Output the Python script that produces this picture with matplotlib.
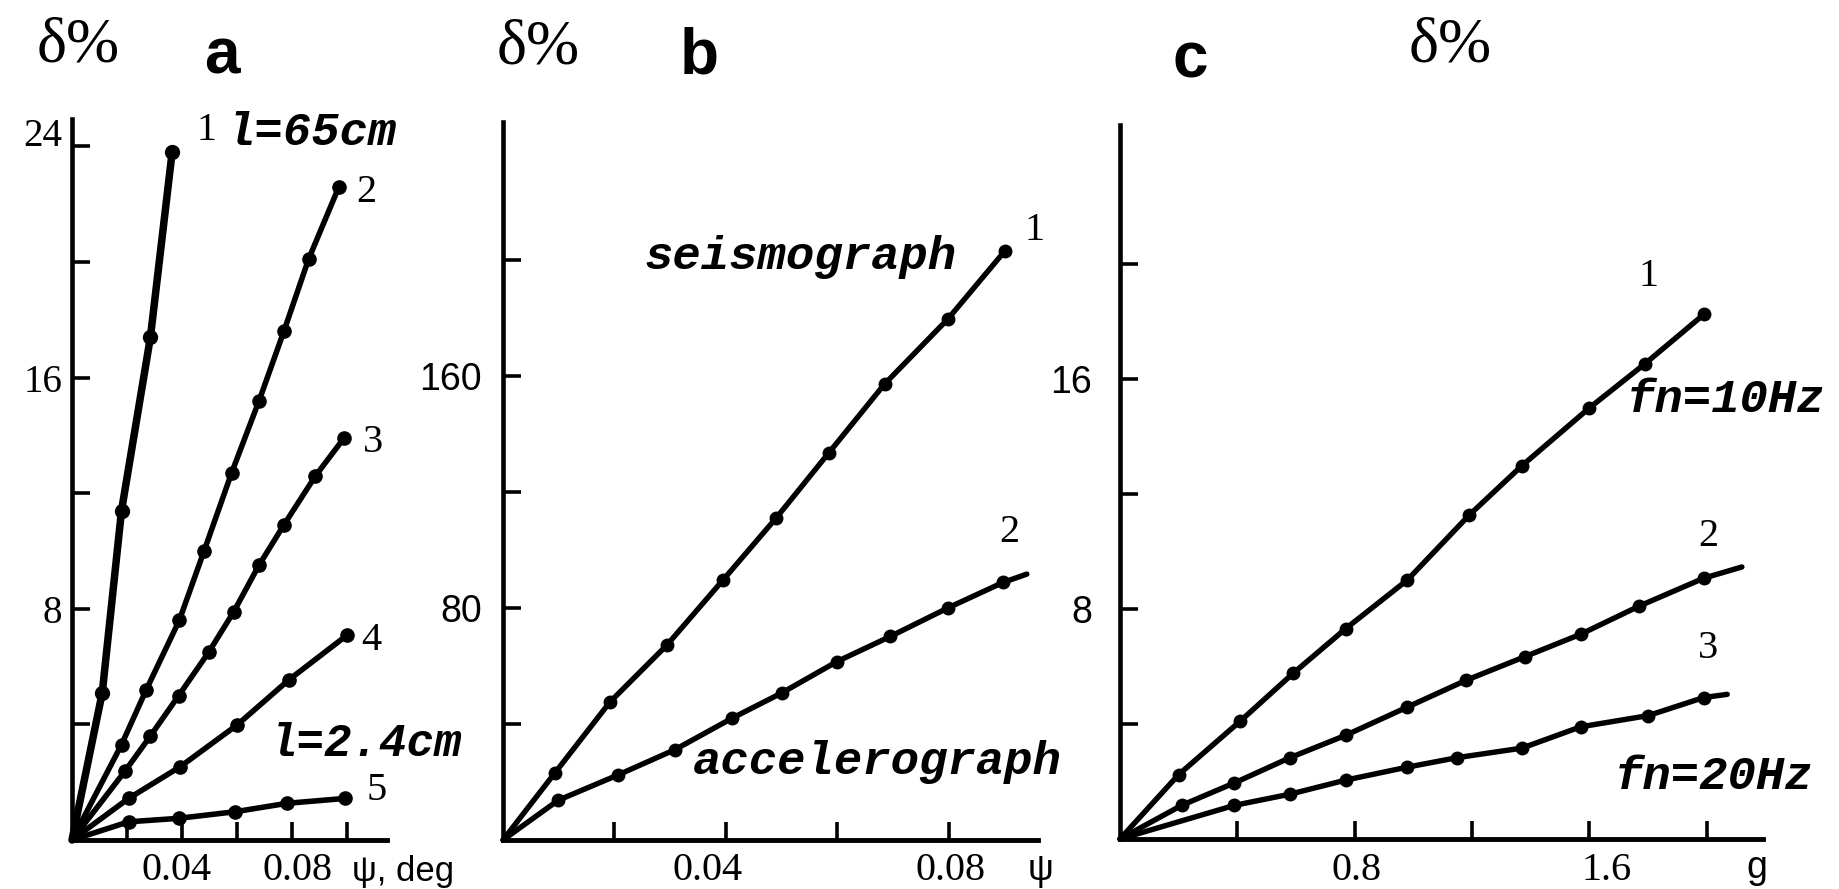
import numpy as np
import matplotlib
matplotlib.use("Agg")
import matplotlib.pyplot as plt
from matplotlib.transforms import ScaledTranslation

W, H = 1839, 889

SERIF = "Liberation Serif"
SANS = "Liberation Sans"
MONO = "Liberation Mono"

# ---------------- data ----------------
# (a) delta % vs psi (deg) for pendulum lengths
a1_x = [0.011, 0.018, 0.0285, 0.0364]
a1_y = [5.1, 11.4, 17.4, 23.8]
a2_x = [0.018, 0.027, 0.039, 0.048, 0.058, 0.068, 0.077, 0.086, 0.097]
a2_y = [3.3, 5.2, 7.6, 10.0, 12.7, 15.2, 17.6, 20.1, 22.6]
a3_x = [0.0194, 0.0285, 0.0388, 0.0497, 0.0588, 0.0679, 0.077, 0.0885, 0.0988]
a3_y = [2.4, 3.6, 5.0, 6.5, 7.9, 9.5, 10.9, 12.6, 13.9]
a4_x = [0.0206, 0.0394, 0.060, 0.0788, 0.100]
a4_y = [1.44, 2.54, 3.98, 5.54, 7.09]
a5_x = [0.0206, 0.0388, 0.0594, 0.0782, 0.0994]
a5_y = [0.63, 0.75, 0.98, 1.27, 1.44]

# (b) delta % vs psi for seismograph / accelerograph
b1_x = [0.0093, 0.0192, 0.0294, 0.0395, 0.049, 0.0585, 0.0685, 0.0798, 0.090]
b1_y = [23.1, 47.6, 67.2, 89.7, 111.0, 133.6, 157.3, 179.6, 203.0]
b2_x = [0.0099, 0.0206, 0.0309, 0.0411, 0.050, 0.0599, 0.0695, 0.0798, 0.0897]
b2_y = [13.7, 22.4, 31.2, 42.0, 50.7, 61.5, 70.2, 80.0, 88.8]
b2_end = (0.094, 91.7)

# (c) delta % vs g for natural frequencies
c1_x = [0.20, 0.41, 0.59, 0.77, 0.98, 1.19, 1.37, 1.60, 1.79, 1.99]
c1_y = [2.24, 4.10, 5.76, 7.32, 9.01, 11.26, 12.98, 14.99, 16.53, 18.24]
c2_x = [0.21, 0.39, 0.58, 0.77, 0.98, 1.18, 1.38, 1.57, 1.77, 1.99]
c2_y = [1.17, 1.95, 2.83, 3.61, 4.59, 5.52, 6.34, 7.12, 8.10, 9.07]
c2_end = (2.12, 9.46)
c3_x = [0.39, 0.58, 0.77, 0.98, 1.15, 1.37, 1.57, 1.80, 1.99]
c3_y = [1.17, 1.56, 2.05, 2.50, 2.83, 3.16, 3.90, 4.29, 4.92]
c3_end = (2.07, 5.03)

a_xticks = [0.02, 0.04, 0.06, 0.08, 0.10]
a_xlabels = ["", "0.04", "", "0.08", ""]
a_yticks = [4, 8, 12, 16, 20, 24]
a_ylabels = ["", "8", "", "16", "", "24"]
b_xticks = [0.02, 0.04, 0.06, 0.08]
b_xlabels = ["", "0.04", "", "0.08"]
b_yticks = [40, 80, 120, 160, 200]
b_ylabels = ["", "80", "", "160", ""]
c_xticks = [0.4, 0.8, 1.2, 1.6, 2.0]
c_xlabels = ["", "0.8", "", "1.6", ""]
c_yticks = [4, 8, 12, 16, 20]
c_ylabels = ["", "8", "", "16", ""]

# ---------------- figure ----------------
fig = plt.figure(figsize=(W / 100, H / 100), dpi=100)
fig.patch.set_facecolor("white")


def add_axes(left, top, right, bottom):
    return fig.add_axes([left / W, 1 - bottom / H, (right - left) / W, (bottom - top) / H])


def fx(x):
    return x / W


def fy(y):
    return 1 - y / H


def shift(labels, dxs, dys):
    # hand-lettered labels sit a little off their ticks
    for lab, dx, dy in zip(labels, dxs, dys):
        lab.set_transform(lab.get_transform()
                          + ScaledTranslation(dx / 100, dy / 100, fig.dpi_scale_trans))


def style(ax, xlim, ylim, xt, xl, yt, yl, yfont, ysize, ypad, xpad, xshift, yshift):
    ax.set_xlim(*xlim)
    ax.set_ylim(*ylim)
    for s in ("top", "right"):
        ax.spines[s].set_visible(False)
    ax.spines["left"].set_linewidth(3.3)
    ax.spines["bottom"].set_linewidth(3.5)
    ax.set_xticks(xt)
    ax.set_xticklabels(xl, fontfamily=SERIF, fontsize=29)
    ax.set_yticks(yt)
    ax.set_yticklabels(yl, fontfamily=yfont, fontsize=ysize)
    ax.tick_params(axis="both", direction="in", length=13, width=2.6, color="black")
    ax.tick_params(axis="y", pad=ypad)
    ax.tick_params(axis="x", pad=xpad)
    ax.set_facecolor("none")
    shift(ax.get_xticklabels(), xshift, [0] * len(xshift))
    shift(ax.get_yticklabels(), [0] * len(yshift), yshift)


def series(ax, xs, ys, lw, ms, end=None):
    lx = [0.0] + list(xs)
    ly = [0.0] + list(ys)
    if end is not None:
        lx.append(end[0])
        ly.append(end[1])
    ax.plot(lx, ly, color="black", lw=lw, solid_capstyle="round",
            solid_joinstyle="round", clip_on=False, zorder=3)
    ax.plot(xs, ys, "o", color="black", ms=ms, clip_on=False, zorder=4)


# panel a
ax_a = add_axes(72, 119, 387, 840)
style(ax_a, (0, 0.1145), (0, 24.95), a_xticks, a_xlabels, a_yticks, a_ylabels,
      SERIF, 28, 7, 9, [0, -5, 0, 5, 0], [0, 0, 0, 0, 0, 14])
series(ax_a, a1_x, a1_y, 5.4, 10)
for xs, ys in [(a2_x, a2_y), (a3_x, a3_y), (a4_x, a4_y), (a5_x, a5_y)]:
    series(ax_a, xs, ys, 4.0, 9.5)

# panel b
ax_b = add_axes(503, 122, 1038, 840)
style(ax_b, (0, 0.096), (0, 247.6), b_xticks, b_xlabels, b_yticks, b_ylabels,
      SANS, 27, 15, 9, [0, -18, 0, 2], [0] * 5)
series(ax_b, b1_x, b1_y, 3.9, 9)
series(ax_b, b2_x, b2_y, 3.9, 9, end=b2_end)

# panel c
ax_c = add_axes(1120, 125, 1763, 839)
style(ax_c, (0, 2.192), (0, 24.83), c_xticks, c_xlabels, c_yticks, c_ylabels,
      SANS, 27, 20, 9, [0, 2, 0, 17, 0], [0] * 5)
series(ax_c, c1_x, c1_y, 3.9, 9)
series(ax_c, c2_x, c2_y, 3.9, 9, end=c2_end)
series(ax_c, c3_x, c3_y, 3.9, 9, end=c3_end)

# ---------------- labels ----------------
def ftext(x, y, s, family, size, **kw):
    fig.text(fx(x), fy(y), s, fontfamily=family, fontsize=size,
             ha=kw.pop("ha", "center"), va=kw.pop("va", "center"), **kw)


# axis titles and panel letters
ftext(78, 46, "δ%", SERIF, 46)
ftext(538, 49, "δ%", SERIF, 46)
ftext(1450, 47, "δ%", SERIF, 46)
ftext(222, 57, "a", SANS, 46, fontweight="bold")
ftext(699, 57, "b", SANS, 46, fontweight="bold")
ftext(1190, 60, "c", SANS, 46, fontweight="bold")

ftext(403, 871, "ψ, deg", SANS, 25)
ftext(1041, 870, "ψ", SANS, 26)
ftext(1757, 868, "g", SANS, 27)

# curve numbers
for x, y, s in [(206, 131, "1"), (366, 192, "2"), (373, 442, "3"),
                (371, 641, "4"), (377, 790, "5"),
                (1035, 230, "1"), (1009, 533, "2"),
                (1649, 277, "1"), (1708, 536, "2"), (1708, 648, "3")]:
    ftext(x, y, s, SERIF, 29)

# annotations
mono = dict(fontweight="bold", fontstyle="italic")
ftext(312, 133, "l=65cm", MONO, 34, **mono)
ftext(366, 744, "l=2.4cm", MONO, 33, **mono)
ftext(801, 257, "seismograph", MONO, 34, **mono)
ftext(877, 762, "accelerograph", MONO, 34, **mono)
ftext(1726, 400, "fn=10Hz", MONO, 34, **mono)
ftext(1714, 777, "fn=20Hz", MONO, 34, **mono)

fig.savefig("out.png", dpi=100, facecolor="white")
